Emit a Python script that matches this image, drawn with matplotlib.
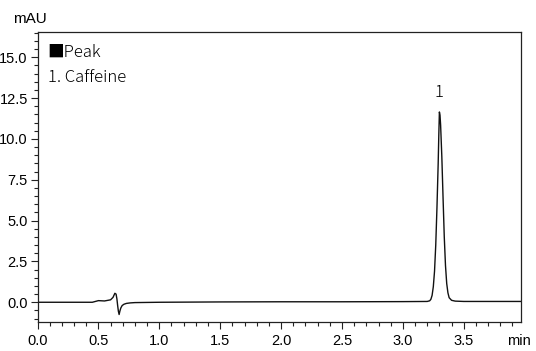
import matplotlib
matplotlib.use("Agg")
import matplotlib.pyplot as plt
from matplotlib.ticker import MultipleLocator, FormatStrFormatter

# Chromatogram trace (time in min, signal in mAU)
time_min = [0.00, 0.30, 0.45, 0.50, 0.55, 0.60, 0.62, 0.635, 0.645, 0.652, 0.658,
            0.664, 0.670, 0.676, 0.684, 0.695, 0.71, 0.73, 0.76, 0.80, 1.00,
            1.50, 2.00, 2.50, 3.00, 3.20, 3.22, 3.23, 3.24, 3.25, 3.26, 3.27,
            3.28, 3.29, 3.295, 3.30, 3.305, 3.31, 3.32, 3.33, 3.34, 3.35, 3.36,
            3.37, 3.38, 3.40, 3.43, 3.50, 3.97]
signal_mau = [0.00, 0.00, 0.00, 0.10, 0.08, 0.15, 0.30, 0.55, 0.50, 0.20, -0.20,
              -0.55, -0.75, -0.55, -0.35, -0.20, -0.12, -0.07, -0.04, -0.02, 0.00,
              0.02, 0.03, 0.03, 0.04, 0.05, 0.09, 0.18, 0.42, 0.95, 1.90, 3.50,
              5.80, 8.50, 10.20, 11.65, 11.45, 10.85, 8.90, 6.40, 4.00, 2.25, 1.15,
              0.58, 0.28, 0.12, 0.07, 0.05, 0.05]

peak_numbers = ["1"]
peak_times = [3.30]
peak_heights = [11.65]
legend_title = "\u25A0Peak"
compound_names = ["1. Caffeine"]

x_ticks = [0.0, 0.5, 1.0, 1.5, 2.0, 2.5, 3.0, 3.5]
y_ticks = [0.0, 2.5, 5.0, 7.5, 10.0, 12.5, 15.0]

fig = plt.figure(figsize=(5.36, 3.51), dpi=100)
ax = fig.add_axes([0.070, 0.083, 0.902, 0.826])

ax.plot(time_min, signal_mau, color="#111111", lw=1.0)

ax.set_xlim(0, 3.97)
ax.set_ylim(-1.2, 16.55)
ax.set_xticks(x_ticks)
ax.set_yticks(y_ticks)
ax.xaxis.set_minor_locator(MultipleLocator(0.1))
ax.yaxis.set_minor_locator(MultipleLocator(0.5))
ax.xaxis.set_major_formatter(FormatStrFormatter("%.1f"))
ax.yaxis.set_major_formatter(FormatStrFormatter("%.1f"))

tick_font = "Liberation Sans"
for lab in ax.get_xticklabels() + ax.get_yticklabels():
    lab.set_fontfamily(tick_font)
    lab.set_fontsize(10.5)
ax.tick_params(which="major", direction="out", length=5, width=0.8, color="#222222")
ax.tick_params(which="minor", direction="out", length=3, width=0.8, color="#222222")
ax.tick_params(axis="x", which="major", pad=3.5)
ax.tick_params(axis="y", which="major", pad=2)
ax.tick_params(top=False, right=False)
for s in ax.spines.values():
    s.set_linewidth(0.9)
    s.set_color("#222222")

# Axis unit labels
fig.text(0.024, 0.947, "mAU", fontfamily=tick_font, fontsize=11, ha="left", va="center")
fig.text(0.946, 0.028, "min", fontfamily=tick_font, fontsize=10.5, ha="left", va="center")

# Legend block
label_font = ["Noto Sans CJK JP", "DejaVu Sans"]
ax.text(0.021, 0.930, legend_title, transform=ax.transAxes, fontfamily=label_font,
        fontsize=12, ha="left", va="center", fontweight="light")
for i, name in enumerate(compound_names):
    ax.text(0.021, 0.843 - i * 0.087, name, transform=ax.transAxes, fontfamily=label_font,
            fontsize=12, ha="left", va="center", fontweight="light")

# Peak number labels
for num, t, h in zip(peak_numbers, peak_times, peak_heights):
    ax.annotate(num, xy=(t, h), xytext=(0, 8), textcoords="offset points",
                ha="center", va="bottom", fontfamily=label_font, fontsize=12,
                fontweight="light")

fig.savefig("out.png", dpi=100)
